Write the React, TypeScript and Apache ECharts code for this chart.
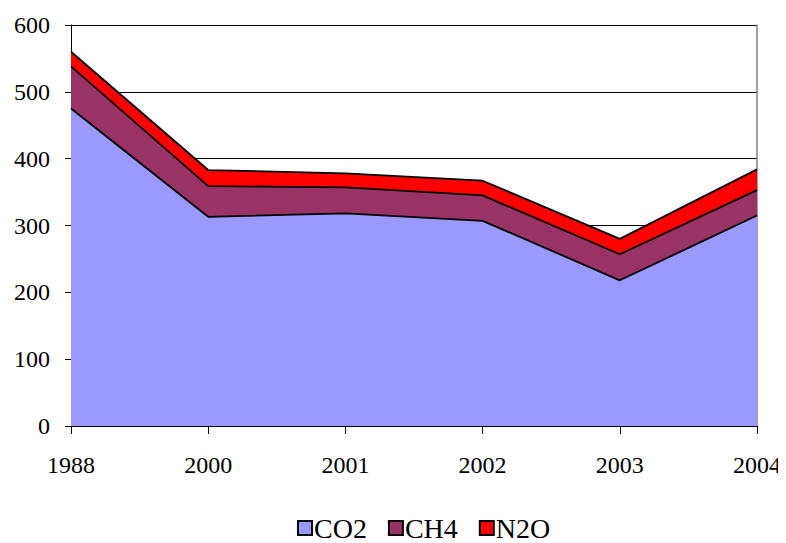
import React, { useEffect, useRef } from "react";
import * as echarts from "echarts";

const years = ["1988", "2000", "2001", "2002", "2003", "2004"];
const co2 = [475, 313, 318, 307, 218, 315];
const ch4 = [63, 46, 39, 38, 39, 38];
const n2o = [22, 24, 21, 22, 23, 31];

export default function App() {
  const ref = useRef<HTMLDivElement>(null);
  useEffect(() => {
    const chart = echarts.init(ref.current!, undefined, { renderer: "svg" });
    const font = "Liberation Serif";
    const mk = (name: string, data: number[], color: string) => ({
      name,
      type: "line",
      stack: "total",
      data,
      symbol: "none",
      lineStyle: { color: "#000", width: 1.8 },
      areaStyle: { color, opacity: 1 },
      itemStyle: { color, borderColor: "#000", borderWidth: 1.2 },
    });
    chart.setOption({
      animation: false,
      textStyle: { fontFamily: font },
      grid: { left: 63, right: 29, top: 17, bottom: 117, containLabel: false },
      legend: {
        top: 501,
        left: 284,
        padding: 5,
        itemWidth: 14,
        itemHeight: 14,
        itemGap: 21,
        icon: "rect",
        textStyle: { fontFamily: font, fontSize: 28, color: "#000", padding: [0, 0, 0, -3] },
        data: ["CO2", "CH4", "N2O"],
      },
      xAxis: {
        type: "category",
        data: years,
        boundaryGap: false,
        axisLine: { lineStyle: { color: "#000", width: 1 } },
        axisTick: { show: true, length: 8, lineStyle: { color: "#000" } },
        axisLabel: { color: "#000", fontSize: 24, fontFamily: font, margin: 27 },
        splitLine: { show: false },
      },
      yAxis: [
        {
          type: "value",
          min: 0,
          max: 600,
          interval: 100,
          axisLine: { show: true, lineStyle: { color: "#000", width: 1 } },
          axisTick: { show: true, length: 6, lineStyle: { color: "#000" } },
          axisLabel: { color: "#000", fontSize: 24, fontFamily: font, margin: 21 },
          splitLine: { show: true, lineStyle: { color: "#000", width: 1 } },
        },
        {
          type: "value",
          position: "right",
          min: 0,
          max: 600,
          interval: 100,
          axisLine: { show: true, lineStyle: { color: "#808080", width: 1.5 } },
          axisTick: { show: false },
          axisLabel: { show: false },
          splitLine: { show: false },
        },
      ],
      series: [
        mk("CO2", co2, "#9999FF"),
        mk("CH4", ch4, "#993366"),
        mk("N2O", n2o, "#FF0000"),
      ],
    });
    return () => chart.dispose();
  }, []);
  return <div ref={ref} style={{ width: 778, height: 535 }} />;
}
